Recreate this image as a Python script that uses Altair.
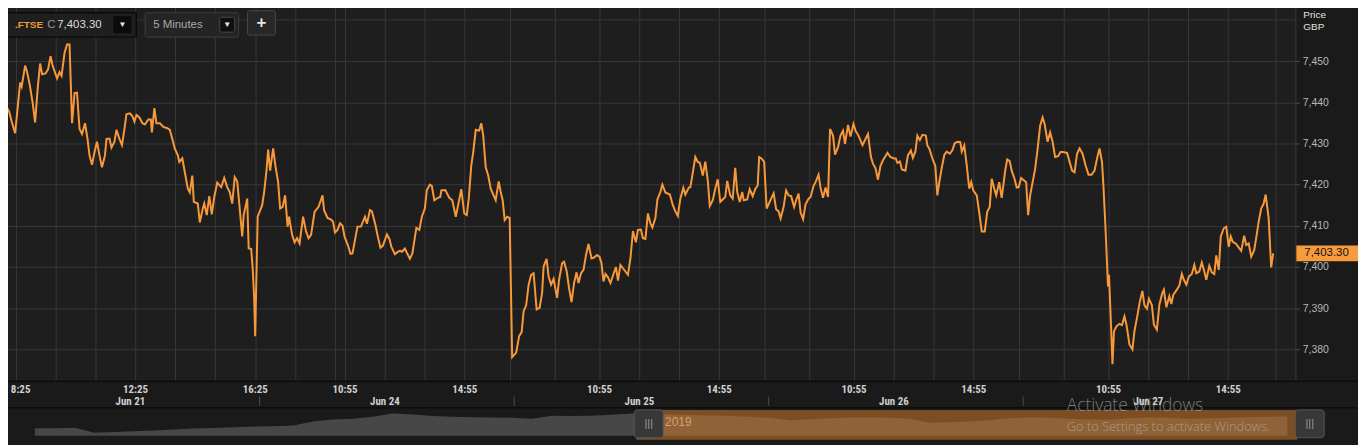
import altair as alt
import pandas as pd

# ---------------- data ----------------
days = ["Jun 21", "Jun 24", "Jun 25", "Jun 26", "Jun 27"]
OPEN_MIN = 8 * 60          # session opens 08:00
BAR_MIN = 5                # 5-minute bars
BARS_PER_DAY = 102         # 08:00 .. 16:25

# minutes after the open, and price, per trading day
jun21_minute = [0, 4, 8, 12, 17, 24, 28, 34, 37, 44, 48, 53, 59, 64, 69, 74, 78, 85, 90, 95,
                99, 108, 113, 117, 123, 128, 133, 138, 143, 148, 153, 158, 164, 169, 173, 178, 183, 188, 193, 198,
                204, 207, 213, 217, 223, 227, 233, 238, 243, 247, 254, 259, 263, 267, 273, 279, 284, 291, 296, 298,
                303, 307, 314, 321, 329, 334, 339, 344, 350, 353, 359, 364, 370, 374, 379, 382, 390, 394, 400, 403,
                408, 413, 418, 423, 429, 437, 443, 449, 454, 459, 464, 469, 474, 479, 482, 489, 492, 497, 500, 503, 505]
jun21_price = [7435.3, 7435.8, 7438.6, 7437.7, 7435.3, 7432.5, 7437.4, 7444.8, 7443.8, 7448.9,
               7447.3, 7444.4, 7439.9, 7435.1, 7443.2, 7449.4, 7446.8, 7447.0, 7448.0, 7451.2,
               7448.9, 7445.8, 7447.3, 7446.4, 7452.0, 7454.0, 7454.0, 7434.9, 7442.2, 7442.3,
               7433.5, 7432.3, 7434.9, 7431.1, 7427.1, 7424.8, 7427.9, 7430.4, 7427.1, 7424.2,
               7427.1, 7431.1, 7431.2, 7429.0, 7430.4, 7433.3, 7431.1, 7429.6, 7433.5, 7437.1,
               7437.3, 7436.6, 7435.3, 7436.9, 7436.3, 7434.9, 7434.6, 7435.8, 7435.8, 7432.7,
               7438.6, 7434.9, 7434.9, 7434.0, 7433.7, 7433.3, 7431.1, 7428.7, 7427.1, 7425.5,
               7426.4, 7423.0, 7419.0, 7418.1, 7422.2, 7415.8, 7415.4, 7410.8, 7414.2, 7415.4,
               7412.6, 7417.2, 7412.8, 7417.0, 7420.5, 7419.4, 7421.6, 7419.4, 7418.2, 7415.4,
               7421.8, 7420.8, 7414.2, 7407.4, 7412.6, 7416.6, 7404.5, 7404.4, 7399.7, 7392.5, 7383.2]

jun24_minute = [0, 9, 13, 18, 21, 25, 31, 36, 41, 45, 50, 55, 60, 63, 69, 74, 79, 84, 91, 97,
                102, 107, 114, 122, 130, 133, 140, 147, 151, 155, 160, 165, 170, 174, 181, 186, 190, 200, 207, 215,
                219, 225, 229, 236, 240, 246, 251, 259, 264, 268, 275, 280, 285, 289, 295, 300, 305, 310, 318, 324,
                329, 335, 339, 345, 349, 354, 361, 366, 368, 376, 384, 390, 397, 403, 408, 414, 419, 423, 428, 432,
                437, 444, 448, 452, 457, 462, 467, 477, 483, 487, 491, 495, 500, 505]
jun24_price = [7412.2, 7415.0, 7418.2, 7423.8, 7428.5, 7423.4, 7428.8, 7424.2, 7420.6, 7414.2,
               7414.6, 7417.4, 7409.8, 7412.2, 7407.8, 7406.0, 7407.0, 7405.7, 7412.2, 7408.6,
               7407.0, 7407.8, 7413.4, 7414.6, 7417.4, 7413.8, 7411.9, 7411.5, 7411.0, 7408.4,
               7409.0, 7410.6, 7410.0, 7407.4, 7405.2, 7403.2, 7403.3, 7409.8, 7409.8, 7412.2,
               7410.5, 7413.8, 7413.5, 7410.2, 7407.8, 7404.7, 7405.2, 7407.9, 7406.8, 7404.9,
               7403.1, 7403.6, 7403.9, 7403.7, 7404.5, 7403.2, 7402.0, 7403.3, 7409.5, 7409.0,
               7412.2, 7414.2, 7418.6, 7420.0, 7419.7, 7416.2, 7416.8, 7417.0, 7418.6, 7418.7,
               7416.8, 7416.2, 7412.2, 7415.8, 7418.9, 7413.0, 7412.6, 7416.6, 7424.6, 7427.9,
               7433.3, 7433.1, 7434.9, 7431.9, 7424.2, 7422.2, 7419.0, 7416.2, 7420.8, 7418.2,
               7416.2, 7411.4, 7412.2, 7411.9]

jun25_minute = [0, 8, 14, 19, 23, 28, 33, 38, 43, 49, 55, 60, 63, 69, 73, 78, 83, 90, 94, 100,
                104, 109, 114, 119, 124, 129, 133, 138, 143, 148, 153, 159, 164, 170, 175, 179, 183, 187, 192, 197,
                203, 208, 212, 217, 222, 232, 237, 242, 248, 252, 258, 262, 267, 272, 277, 281, 287, 291, 297, 301,
                307, 316, 322, 327, 332, 337, 343, 347, 354, 357, 361, 367, 372, 376, 382, 387, 392, 396, 402, 407,
                412, 417, 422, 427, 431, 437, 442, 447, 451, 456, 461, 464, 471, 476, 482, 487, 492, 495, 500, 505]
jun25_price = [7378.1, 7379.2, 7383.2, 7384.2, 7389.3, 7390.7, 7395.7, 7398.1, 7398.5, 7389.7,
               7390.1, 7393.7, 7400.1, 7402.0, 7397.7, 7395.7, 7397.1, 7392.5, 7396.9, 7400.9,
               7401.3, 7399.1, 7394.9, 7391.5, 7396.1, 7398.7, 7396.1, 7398.5, 7399.3, 7402.9,
               7405.6, 7402.1, 7402.3, 7402.9, 7402.5, 7400.9, 7396.5, 7398.3, 7397.5, 7396.1,
               7398.3, 7400.0, 7396.7, 7400.5, 7399.7, 7398.1, 7402.1, 7408.7, 7406.0, 7409.0,
               7409.1, 7407.0, 7406.8, 7413.0, 7410.6, 7409.6, 7411.9, 7416.4, 7418.2, 7420.0,
               7418.1, 7417.6, 7415.0, 7413.5, 7412.4, 7416.6, 7419.2, 7417.6, 7419.3, 7419.4,
               7422.2, 7426.7, 7425.5, 7425.3, 7422.2, 7425.6, 7421.0, 7414.8, 7416.2, 7419.0,
               7421.3, 7415.8, 7416.4, 7417.0, 7420.9, 7417.4, 7416.6, 7424.1, 7418.2, 7415.8,
               7418.2, 7416.2, 7416.4, 7418.9, 7417.2, 7418.9, 7419.8, 7426.7, 7426.3, 7425.5]

jun26_minute = [0, 9, 14, 19, 24, 28, 34, 39, 44, 49, 55, 59, 64, 68, 73, 78, 84, 88, 94, 98,
                104, 108, 113, 118, 123, 127, 133, 137, 143, 148, 153, 157, 163, 168, 174, 178, 184, 192, 203, 209,
                213, 218, 223, 228, 233, 238, 242, 248, 254, 259, 262, 267, 271, 278, 283, 289, 293, 298, 302, 307,
                312, 319, 322, 326, 332, 338, 342, 346, 351, 356, 361, 367, 372, 377, 383, 388, 391, 396, 401, 406,
                410, 414, 421, 426, 431, 437, 442, 447, 451, 457, 460, 466, 471, 478, 482, 487, 491, 497, 501, 505]
jun26_price = [7414.2, 7416.6, 7417.9, 7414.0, 7413.5, 7411.8, 7414.6, 7418.6, 7417.4, 7417.2,
               7414.6, 7416.2, 7417.8, 7413.2, 7411.6, 7415.2, 7416.6, 7417.0, 7419.7, 7420.6,
               7422.4, 7419.2, 7416.8, 7419.3, 7417.0, 7433.5, 7431.9, 7427.3, 7429.1, 7431.9,
               7433.1, 7429.9, 7434.5, 7431.7, 7434.7, 7433.1, 7431.9, 7429.6, 7432.3, 7426.7,
               7425.1, 7424.0, 7421.2, 7424.5, 7425.9, 7426.9, 7427.7, 7426.7, 7426.4, 7426.3,
               7425.3, 7425.6, 7423.7, 7423.4, 7427.1, 7428.3, 7426.5, 7428.0, 7431.9, 7430.8,
               7432.1, 7431.9, 7429.5, 7428.7, 7426.4, 7424.5, 7417.4, 7420.6, 7424.2, 7427.2,
               7428.0, 7427.5, 7428.3, 7430.1, 7430.4, 7430.3, 7428.0, 7429.5, 7424.6, 7419.0,
               7420.6, 7418.6, 7417.4, 7413.2, 7408.6, 7408.6, 7413.4, 7414.6, 7421.4, 7418.6,
               7417.4, 7420.6, 7416.8, 7423.4, 7426.1, 7425.7, 7423.4, 7421.3, 7419.3, 7419.4]

jun27_minute = [0, 10, 14, 18, 23, 28, 33, 38, 43, 47, 53, 58, 63, 68, 74, 79, 84, 92, 98, 102,
                107, 112, 117, 123, 129, 135, 141, 147, 152, 157, 162, 165, 169, 174, 176, 180, 183, 186, 191, 197,
                202, 207, 211, 217, 223, 227, 232, 238, 243, 247, 252, 256, 262, 266, 272, 277, 283, 286, 291, 297,
                301, 305, 312, 317, 322, 326, 331, 336, 342, 347, 351, 357, 362, 367, 371, 377, 382, 387, 391, 396,
                400, 406, 411, 416, 420, 424, 430, 435, 441, 447, 451, 456, 461, 467, 472, 476, 481, 486, 490, 496,
                501, 505]
jun27_price = [7421.6, 7420.6, 7412.6, 7417.4, 7420.6, 7423.8, 7428.7, 7434.3, 7436.3, 7434.7,
               7430.4, 7432.7, 7430.4, 7426.7, 7426.9, 7427.9, 7427.9, 7427.7, 7425.1, 7423.4,
               7423.0, 7427.5, 7428.8, 7427.5, 7424.7, 7422.4, 7422.4, 7423.4, 7426.3, 7428.8,
               7425.5, 7419.4, 7409.4, 7395.3, 7398.1, 7386.0, 7376.4, 7384.4, 7385.6, 7386.2,
               7385.9, 7388.0, 7386.0, 7381.2, 7380.0, 7384.4, 7387.6, 7391.7, 7394.2, 7390.7,
               7389.9, 7392.3, 7390.7, 7386.0, 7384.8, 7390.9, 7393.7, 7394.5, 7390.2, 7392.9,
               7391.0, 7393.3, 7394.5, 7395.5, 7398.3, 7396.9, 7395.7, 7397.7, 7398.3, 7400.5,
               7398.5, 7398.9, 7401.1, 7398.9, 7396.9, 7400.3, 7398.7, 7398.3, 7402.8, 7399.3,
               7407.4, 7409.4, 7409.8, 7404.9, 7407.4, 7406.1, 7405.7, 7404.9, 7403.9, 7407.6,
               7405.3, 7405.7, 7402.5, 7404.1, 7407.8, 7411.0, 7414.2, 7415.4, 7417.6, 7411.8,
               7399.9, 7403.3]

day_minutes = [jun21_minute, jun24_minute, jun25_minute, jun26_minute, jun27_minute]
day_prices = [jun21_price, jun24_price, jun25_price, jun26_price, jun27_price]

# axis values
y_tick_values = [7380, 7390, 7400, 7410, 7420, 7430, 7440, 7450]
y_extra_grid = [7460]
y_domain = [7372.3, 7464.5]

time_label_day = [0, 0, 0, 1, 1, 2, 2, 3, 3, 4, 4]
time_label_text = ["8:25", "12:25", "16:25", "10:55", "14:55", "10:55", "14:55",
                   "10:55", "14:55", "10:55", "14:55"]
date_label_time = "12:15"

grid_jun21 = ["8:25", "9:45", "11:05", "12:25", "13:45", "15:05", "16:25"]
grid_jun24 = ["9:15", "10:35", "10:55", "12:15", "13:35", "14:55", "16:25"]
grid_jun25 = ["9:25", "10:55", "12:15", "13:35", "14:55", "16:25"]
grid_jun26 = ["9:25", "10:55", "12:15", "13:35", "14:55", "16:25"]
grid_jun27 = ["9:25", "10:55", "12:15", "13:35", "14:55", "16:30"]
grid_times = [grid_jun21, grid_jun24, grid_jun25, grid_jun26, grid_jun27]

# navigator (longer history) levels, evenly sampled
nav_levels = [7230, 7230, 7235, 7160, 7170, 7182, 7193, 7208, 7224, 7232,
              7242, 7253, 7259, 7268, 7332, 7362, 7373, 7403, 7450, 7434,
              7412, 7400, 7395, 7390, 7385, 7370, 7418, 7415, 7418, 7433,
              7452, 7445, 7434, 7430, 7422, 7415, 7400, 7382, 7348, 7365,
              7378, 7392, 7390, 7385, 7370, 7310, 7320, 7332, 7348, 7378,
              7395, 7385, 7370, 7362, 7355, 7378, 7392, 7385, 7373, 7378,
              7388, 7395, 7400, 7405]
nav_window = [30.25, 63.5]
nav_base = 7115
nav_domain = [7115, 7505]

symbol = ".FTSE"
interval = "5 Minutes"
year_label = "2019"

# ---------------- helpers ----------------
def minutes_of(hhmm):
    h, m = hhmm.split(":")
    return int(h) * 60 + int(m) - OPEN_MIN


def bar_pos(day, minutes):
    return day * BARS_PER_DAY + minutes / BAR_MIN


rows = []
for d, (mins, prices) in enumerate(zip(day_minutes, day_prices)):
    for m, p in zip(mins, prices):
        rows.append({"t": bar_pos(d, m), "price": p})
line_df = pd.DataFrame(rows)
last_price = jun27_price[-1]
last_txt = f"{last_price:,.2f}"

grid_t = [bar_pos(d, minutes_of(s)) for d, lst in enumerate(grid_times) for s in lst]
time_df = pd.DataFrame({"t": [bar_pos(d, minutes_of(s)) for d, s in zip(time_label_day, time_label_text)],
                        "label": time_label_text})
date_df = pd.DataFrame({"t": [bar_pos(d, minutes_of(date_label_time)) for d in range(len(days))],
                        "label": days})
sep_df = pd.DataFrame({"t": [d * BARS_PER_DAY + 0.8 for d in range(1, len(days))]})
x_domain = [-1.255, 517.9]

W, H = 1303, 382
ORANGE = "#f7993a"
GRID = "#373737"
UI_FONT = "Liberation Sans, Arial, sans-serif"
NARROW = "Liberation Sans Narrow, Arial Narrow, Roboto Condensed, Liberation Sans, sans-serif"

X = alt.X("t:Q", scale=alt.Scale(domain=x_domain, nice=False, zero=False),
          axis=alt.Axis(values=grid_t, grid=True, labels=False, ticks=False, domain=False, title=None,
                        gridColor=GRID, gridWidth=1))
Y = alt.Y("price:Q", scale=alt.Scale(domain=y_domain, nice=False, zero=False),
          axis=alt.Axis(orient="right", values=y_tick_values, format=",.0f", title=None, grid=True,
                        gridColor=GRID, gridWidth=1, domainColor="#3c3c3c", tickColor="#4c4c4c",
                        tickSize=4, labelColor="#b8b8b8", labelFont=UI_FONT, labelFontSize=10.5,
                        labelPadding=3))


def one(**kw):
    return alt.Data(values=[kw if kw else {"k": 0}])


def ui_rect(x1, x2, y1, y2, **kw):
    return alt.Chart(one()).mark_rect(**kw).encode(
        x=alt.value(x1), x2=alt.value(x2), y=alt.value(y1), y2=alt.value(y2))


def ui_text(txt, x, y, **kw):
    kw.setdefault("baseline", "middle")
    kw.setdefault("align", "left")
    kw.setdefault("font", UI_FONT)
    return alt.Chart(one(s=txt)).mark_text(**kw).encode(
        x=alt.value(x), y=alt.value(y), text="s:N")


# ---------------- main panel ----------------
grid_top = alt.Chart(pd.DataFrame({"price": y_extra_grid})).mark_rule(
    color=GRID, strokeWidth=1).encode(y=Y)
price_line = alt.Chart(line_df).mark_line(color=ORANGE, strokeWidth=2).encode(x=X, y=Y)

badge_df = pd.DataFrame({"price": [last_price], "label": [last_txt]})
badge = alt.Chart(badge_df).mark_rect(color="#f89b3c", height=16).encode(
    y=Y, x=alt.value(1304), x2=alt.value(1366))
badge_text = alt.Chart(badge_df).mark_text(
    color="#141414", fontSize=11.5, font=UI_FONT, align="left", baseline="middle").encode(
    y=Y, x=alt.value(1312), text="label:N")

label_style = dict(color="#d0d0d0", fontSize=11, fontWeight="bold", font=NARROW, baseline="middle")
# the first time label sits at the very left edge; nudge it so it stays inside the page
time_first = alt.Chart(time_df.iloc[:1]).mark_text(dx=5, **label_style).encode(
    x=X, y=alt.value(391), text="label:N")
time_labels = alt.Chart(time_df.iloc[1:]).mark_text(**label_style).encode(
    x=X, y=alt.value(391), text="label:N")
date_labels = alt.Chart(date_df).mark_text(**label_style).encode(
    x=X, y=alt.value(403.5), text="label:N")
seps = alt.Chart(sep_df).mark_rule(color="#4c4c4c", strokeWidth=1).encode(
    x=X, y=alt.value(397.5), y2=alt.value(407))

border_top = alt.Chart(one()).mark_rule(color="#0c0c0c", strokeWidth=1.5).encode(
    x=alt.value(0), x2=alt.value(1366), y=alt.value(382.2))
border_bot = alt.Chart(one()).mark_rule(color="#0c0c0c", strokeWidth=1.5).encode(
    x=alt.value(0), x2=alt.value(1366), y=alt.value(408.8))

price_title = ui_text("Price", 1311, 13.5, color="#e2e2e2", fontSize=10)
gbp_title = ui_text("GBP", 1311, 25.5, color="#e2e2e2", fontSize=10)

# top-left controls
box1 = ui_rect(6, 137, 11.5, 36, fill="#1f1f1f", stroke="#0b0b0b", strokeWidth=1.5)
dd1 = ui_rect(114, 132, 15, 32, fill="#0b0b0b")
dd1_t = ui_text("▼", 123, 23.5, color="#e8e8e8", fontSize=8, align="center")
sym_t = ui_text(symbol, 15, 23.5, color="#f29a34", fontSize=10, fontWeight="bold")
c_t = ui_text("C", 47.5, 23.5, color="#9a9a9a", fontSize=11.5)
px_t = ui_text(last_txt, 57.5, 23.5, color="#dcdcdc", fontSize=11.5)
box2 = ui_rect(146, 240, 11.5, 36, fill="#242424", stroke="#3e3e3e", strokeWidth=1, cornerRadius=2)
int_t = ui_text(interval, 154, 23.5, color="#a8a8a8", fontSize=11.5)
dd2 = ui_rect(221, 236, 16, 31, fill="#0f0f0f", stroke="#4a4a4a", strokeWidth=1, cornerRadius=2)
dd2_t = ui_text("▼", 228.5, 23.5, color="#e8e8e8", fontSize=8, align="center")
plus_b = ui_rect(249, 277, 9.5, 34, fill="#272727", stroke="#4a4a4a", strokeWidth=1, cornerRadius=2)
plus_t = ui_text("+", 263, 21.5, color="#e6e6e6", fontSize=17, fontWeight="bold", align="center")

main = alt.layer(
    grid_top, price_line, badge, badge_text, time_first, time_labels, date_labels, seps,
    border_top, border_bot, price_title, gbp_title,
    box1, dd1, dd1_t, sym_t, c_t, px_t, box2, int_t, dd2, dd2_t, plus_b, plus_t,
)

# ---------------- navigator ----------------
nav_df = pd.DataFrame({"i": list(range(len(nav_levels))), "v": nav_levels,
                       "v0": [nav_base] * len(nav_levels)})
NX = alt.X("i:Q", scale=alt.Scale(domain=[0, len(nav_levels) - 1], range=[35, 1295], nice=False, zero=False),
           axis=None)
NY = alt.Y("v:Q", scale=alt.Scale(domain=nav_domain, range=[437, 411], nice=False, zero=False), axis=None)
nav_area = alt.Chart(nav_df).mark_area(color="#474747").encode(x=NX, y=NY, y2="v0:Q")
win_df = pd.DataFrame({"i": [nav_window[0]], "i2": [nav_window[1]]})
nav_sel = alt.Chart(win_df).mark_rect(color="#c8782a", opacity=0.56).encode(
    x=NX, x2="i2:Q", y=alt.value(411), y2=alt.value(441))
h_left = ui_rect(638, 667, 411, 439, fill="#383838", stroke="#575757", strokeWidth=1, cornerRadius=3)
h_left_t = ui_text("|||", 652.5, 425, color="#9a9a9a", fontSize=11, align="center")
h_right = ui_rect(1303, 1332, 411, 439, fill="#383838", stroke="#575757", strokeWidth=1, cornerRadius=3)
h_right_t = ui_text("|||", 1317.5, 425, color="#9a9a9a", fontSize=11, align="center")
year_t = ui_text(year_label, 669, 423.5, color="#dba068", fontSize=12)
wm1 = ui_text("Activate Windows", 1073, 407.5, color="#c8c8c8", opacity=0.55, fontSize=17.5,
              font="Open Sans, Noto Sans, sans-serif", fontWeight=300)
wm2 = ui_text("Go to Settings to activate Windows.", 1073, 428, color="#c8c8c8", opacity=0.55,
              fontSize=13, font="Open Sans, Noto Sans, sans-serif", fontWeight=300)

nav = alt.layer(nav_area, nav_sel, h_left, h_left_t, h_right, h_right_t, year_t, wm1, wm2)

# the page keeps an 8px margin; shift the drawing so it lines up with the window's corner
chart = alt.layer(main, nav).resolve_scale(x="independent", y="independent").properties(
    width=W, height=H,
    padding={"left": -8, "top": -8, "right": 63, "bottom": 63},
    autosize=alt.AutoSizeParams(type="none"),
    background="#1a1a1a",
).configure_view(fill="#1e1e1e", stroke=None)

chart.save("out.html", embed_options={"renderer": "svg", "actions": False})
